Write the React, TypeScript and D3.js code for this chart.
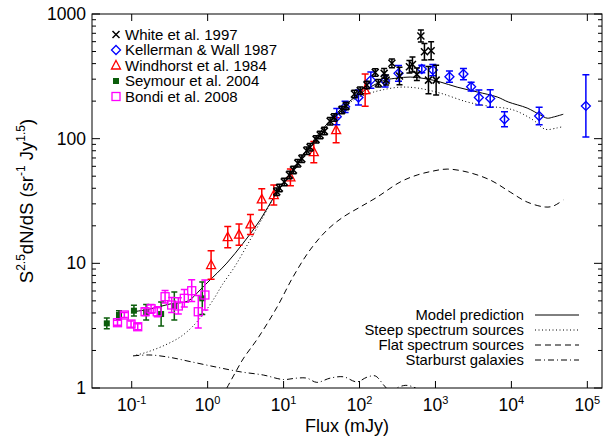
import React from "react";
import * as d3 from "d3";

// ---------- data ----------
const whiteS = [8.13, 8.81, 10.2, 11.9, 13.5, 15.4, 17.4, 20.2, 22.3, 26.8, 30.3, 34.5, 41.0, 46.3, 58.5, 66.6, 85.7, 102, 125, 161, 177, 211, 224, 267, 336, 454, 498, 569, 643, 716, 877, 809, 1021];
const whiteV = [37.5, 40.2, 44.9, 51.1, 56.0, 63.4, 69.0, 80.0, 85.2, 98.7, 107, 115, 138, 148, 170, 183, 228, 242, 269, 339, 278, 334, 295, 402, 318, 377, 394, 328, 665, 498, 507, 295, 295];
const whiteErr = [0.03, 0.03, 0.03, 0.03, 0.03, 0.03, 0.03, 0.03, 0.03, 0.03, 0.03, 0.03, 0.03, 0.03, 0.03, 0.03, 0.03, 0.03, 0.03, 0.03, 0.03, 0.04, 0.04, 0.035, 0.07, 0.05, 0.06, 0.05, 0.048, 0.067, 0.072, 0.11, 0.12];

const kwS = [50.2, 64.6, 96.8, 141, 217, 326, 661, 924, 1528, 2337, 2950, 3730, 5260, 8110, 23200, 95700];
const kwV = [150, 180, 214, 295, 290, 334, 362, 355, 314, 330, 261, 214, 210, 143, 152, 183];
const kwErr = [0.065, 0.045, 0.06, 0.065, 0.047, 0.064, 0.03, 0.045, 0.045, 0.045, 0.035, 0.06, 0.07, 0.06, 0.07, 0.25];

const whS = [1.11, 1.84, 2.59, 3.66, 5.16, 7.43, 12.3, 25, 49.2, 118.6];
const whV = [9.69, 16.2, 17.0, 20.5, 32.6, 35.3, 49, 78, 117, 245];
const whErr = [0.115, 0.085, 0.085, 0.08, 0.085, 0.08, 0.067, 0.085, 0.1, 0.13];

const seyS = [0.047, 0.068, 0.107, 0.155, 0.244, 0.364, 0.85];
const seyV = [3.30, 3.85, 4.17, 4.05, 3.92, 4.55, 5.24];
const seyErr = [0.043, 0.035, 0.043, 0.063, 0.096, 0.112, 0.13];

const bS = [0.065, 0.080, 0.098, 0.12, 0.150, 0.18, 0.217, 0.275, 0.336, 0.411, 0.493, 0.617, 0.753, 0.92];
const bV = [3.34, 3.85, 3.26, 3.10, 4.09, 4.32, 4.09, 5.40, 4.63, 4.55, 5.24, 6.03, 4.09, 5.57];
const bErr = [0.02, 0.02, 0.025, 0.025, 0.03, 0.035, 0.04, 0.05, 0.06, 0.065, 0.07, 0.087, 0.13, 0.12];

// model curves
const modelS = [0.1, 0.174, 0.32, 0.552, 0.794, 1.01, 1.79, 2.93, 4.9, 7.73, 12.2, 19.2, 30.3, 55.5, 87.5, 138, 218, 313, 464, 778, 1153, 1932, 3548, 6501, 9079, 16140, 23990, 29650, 35560, 48190];
const modelV = [4.07, 4.3, 4.72, 4.99, 6.11, 7.08, 10.05, 14.5, 22.2, 35.3, 52.0, 78.1, 113, 170, 216, 259, 295, 306, 312, 301, 285, 259, 237, 216, 197, 176, 155, 146, 149, 157];

const steepS = [0.104, 0.159, 0.275, 0.433, 0.623, 0.897, 1.25, 1.55, 2.3, 3.62, 5.37, 7.28, 10.5, 16.5, 30.3, 55.5, 87.5, 138, 199, 343, 574, 1153, 2618, 4797, 10560, 19380, 27870, 40090, 45290];
const steepV = [1.81, 1.94, 2.21, 2.56, 3.08, 3.99, 5.37, 6.7, 9.51, 15.4, 23.5, 32.8, 44.9, 67.4, 109, 163, 208, 232, 246, 259, 255, 232, 197, 183, 170, 141, 119, 122, 124];

const flatS = [1.55, 1.79, 2.3, 2.93, 4.61, 8.21, 13.3, 22.3, 37.4, 60.8, 102, 171, 343, 574, 933, 1426, 2618, 5260, 9640, 16140, 27870, 35560, 48190];
const flatV = [0.85, 1.0, 1.32, 1.71, 2.52, 4.46, 7.77, 12.8, 18.5, 23.5, 28.3, 34.0, 44.9, 51.1, 55.0, 57.0, 54.0, 46.6, 37.3, 31.0, 28.3, 28.8, 32.2];

const starS = [0.105, 0.174, 0.32, 0.585, 1.31, 2.67, 5.43, 9.9, 14.9, 20.2, 27.4, 41.0, 61.4, 92.1, 125, 161, 207, 238, 261, 294, 399, 508, 628];
const starV = [1.81, 1.84, 1.76, 1.63, 1.47, 1.35, 1.27, 1.17, 1.20, 1.20, 1.11, 1.20, 1.23, 1.12, 1.22, 1.25, 1.06, 0.96, 0.895, 0.98, 1.05, 1.02, 0.95];

const xTickVals = [0.1, 1, 10, 100, 1000, 1e4, 1e5];
const xTickExps = ["-1", "0", "1", "2", "3", "4", "5"];
const yTickVals = [1, 10, 100, 1000];
const yTickLabels = ["1", "10", "100", "1000"];

const legendTop = ["White et al. 1997", "Kellerman & Wall 1987", "Windhorst et al. 1984", "Seymour et al. 2004", "Bondi et al. 2008"];
const legendBottom = ["Model prediction", "Steep spectrum sources", "Flat spectrum sources", "Starburst galaxies"];

// ---------- layout ----------
const W = 610, H = 437;
const L = 92, R = 602, T = 14, B = 388;
const FONT = "'Liberation Sans', Arial, Helvetica, sans-serif";

const BLUE = "#0000ff", RED = "#ff0000", GREEN = "#0b5d0b", MAGENTA = "#ff00ff";

const x = d3.scaleLog().domain([0.03, 1.56e5]).range([L, R]);
const y = d3.scaleLog().domain([1, 1000]).range([B, T]);

const lineGen = d3.line<[number, number]>().x(d => x(d[0])).y(d => y(d[1])).curve(d3.curveCatmullRom.alpha(0.5));
const pairs = (a: number[], b: number[]) => a.map((v, i) => [v, b[i]] as [number, number]);

type MarkerKind = "cross" | "diamond" | "triangle" | "fsquare" | "osquare";

function Marker({ kind, cx, cy, color }: { kind: MarkerKind; cx: number; cy: number; color: string }) {
  const sw = 1.3;
  if (kind === "cross") return <path d={`M${cx - 3.5},${cy - 3.5}L${cx + 3.5},${cy + 3.5}M${cx - 3.5},${cy + 3.5}L${cx + 3.5},${cy - 3.5}`} stroke={color} strokeWidth={1.5} fill="none" />;
  if (kind === "diamond") return <path d={`M${cx},${cy - 4.5}L${cx + 4.5},${cy}L${cx},${cy + 4.5}L${cx - 4.5},${cy}Z`} stroke={color} strokeWidth={sw} fill="none" />;
  if (kind === "triangle") return <path d={`M${cx},${cy - 5}L${cx + 4.5},${cy + 3.5}L${cx - 4.5},${cy + 3.5}Z`} stroke={color} strokeWidth={sw} fill="none" />;
  if (kind === "fsquare") return <rect x={cx - 3} y={cy - 3} width={6} height={6} fill={color} />;
  return <rect x={cx - 4} y={cy - 4} width={8} height={8} stroke={color} strokeWidth={sw} fill="none" />;
}

function Series({ S, V, E, kind, color, cap }: { S: number[]; V: number[]; E: number[]; kind: MarkerKind; color: string; cap: number }) {
  return (
    <g>
      {S.map((s, i) => {
        const cx = x(s);
        const y1 = y(V[i] * Math.pow(10, E[i]));
        const y0 = y(V[i] * Math.pow(10, -E[i]));
        return (
          <g key={i}>
            <path d={`M${cx},${y0}L${cx},${y1}M${cx - cap},${y0}L${cx + cap},${y0}M${cx - cap},${y1}L${cx + cap},${y1}`} stroke={color} strokeWidth={1.5} fill="none" />
            <Marker kind={kind} cx={cx} cy={y(V[i])} color={color} />
          </g>
        );
      })}
    </g>
  );
}

export default function App() {
  const yMinor: number[] = [];
  for (let d = 1; d < 1000; d *= 10) for (let k = 2; k <= 9; k++) yMinor.push(d * k);

  const legendMarkers: [MarkerKind, string][] = [["cross", "#000"], ["diamond", BLUE], ["triangle", RED], ["fsquare", GREEN], ["osquare", MAGENTA]];
  const legendDash = ["none", "1,2.5", "6,4", "6,3,1,3"];

  return (
    <svg width={W} height={H} style={{ position: "absolute", left: 0, top: 0, background: "#fff" }} fontFamily={FONT}>
      <defs>
        <clipPath id="plot"><rect x={L} y={T} width={R - L} height={B - T} /></clipPath>
      </defs>
      <rect x={0} y={0} width={W} height={H} fill="#fff" />

      {/* curves */}
      <g clipPath="url(#plot)" fill="none" stroke="#000" strokeWidth={1}>
        <path d={lineGen(pairs(modelS, modelV)) || ""} />
        <path d={lineGen(pairs(steepS, steepV)) || ""} strokeDasharray="1,2.5" />
        <path d={lineGen(pairs(flatS, flatV)) || ""} strokeDasharray="6,4" />
        <path d={lineGen(pairs(starS, starV)) || ""} strokeDasharray="6,3,1,3" />
      </g>

      {/* data */}
      <Series S={seyS} V={seyV} E={seyErr} kind="fsquare" color={GREEN} cap={3} />
      <Series S={bS} V={bV} E={bErr} kind="osquare" color={MAGENTA} cap={3.5} />
      <Series S={whS} V={whV} E={whErr} kind="triangle" color={RED} cap={3.5} />
      <Series S={kwS} V={kwV} E={kwErr} kind="diamond" color={BLUE} cap={3.5} />
      <Series S={whiteS} V={whiteV} E={whiteErr} kind="cross" color="#000" cap={3} />

      {/* axes frame */}
      <rect x={L} y={T} width={R - L} height={B - T} fill="none" stroke="#000" strokeWidth={1} />
      {xTickVals.map((v, i) => (
        <g key={"xt" + i}>
          <line x1={x(v)} x2={x(v)} y1={B} y2={B - 7} stroke="#000" />
          <line x1={x(v)} x2={x(v)} y1={T} y2={T + 7} stroke="#000" />
          <text x={x(v)} y={411} fontSize={17.5} textAnchor="middle" fill="#000">
            10<tspan dy={-7} fontSize={11}>{xTickExps[i]}</tspan>
          </text>
        </g>
      ))}
      {yTickVals.map((v, i) => (
        <g key={"yt" + i}>
          <line x1={L} x2={L + 8} y1={y(v)} y2={y(v)} stroke="#000" />
          <line x1={R} x2={R - 8} y1={y(v)} y2={y(v)} stroke="#000" />
          <text x={86} y={y(v) + 6} fontSize={17.5} textAnchor="end" fill="#000">{yTickLabels[i]}</text>
        </g>
      ))}
      {yMinor.map((v, i) => (
        <g key={"ym" + i}>
          <line x1={L} x2={L + 4} y1={y(v)} y2={y(v)} stroke="#000" />
          <line x1={R} x2={R - 4} y1={y(v)} y2={y(v)} stroke="#000" />
        </g>
      ))}

      {/* axis titles */}
      <text x={(L + R) / 2} y={432} fontSize={18} textAnchor="middle" fill="#000">Flux (mJy)</text>
      <text transform={`translate(33,${(T + B) / 2}) rotate(-90)`} fontSize={18.5} textAnchor="middle" fill="#000">
        S<tspan dy={-8} fontSize={12}>2.5</tspan><tspan dy={8}>dN/dS (sr</tspan><tspan dy={-8} fontSize={12}>-1</tspan><tspan dy={8}> Jy</tspan><tspan dy={-8} fontSize={12}>1.5</tspan><tspan dy={8}>)</tspan>
      </text>

      {/* top-left legend */}
      {legendTop.map((t, i) => {
        const ly = 34.5 + i * 15.5;
        return (
          <g key={"lt" + i}>
            <Marker kind={legendMarkers[i][0]} cx={116} cy={ly} color={legendMarkers[i][1]} />
            <text x={125} y={ly + 5} fontSize={15} fill="#000">{t}</text>
          </g>
        );
      })}

      {/* bottom-right legend */}
      {legendBottom.map((t, i) => {
        const by = 320 + i * 15;
        return (
          <g key={"lb" + i}>
            <text x={524} y={by} fontSize={14.8} textAnchor="end" fill="#000">{t}</text>
            <line x1={535} x2={579} y1={by - 5} y2={by - 5} stroke="#000" strokeWidth={1} strokeDasharray={legendDash[i]} />
          </g>
        );
      })}
    </svg>
  );
}
